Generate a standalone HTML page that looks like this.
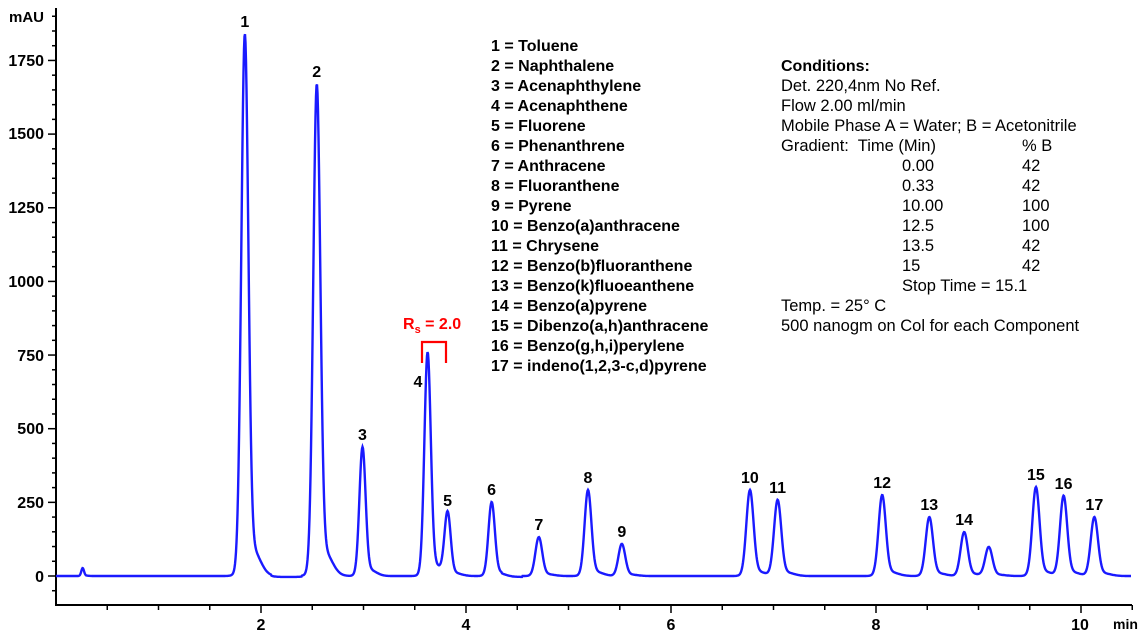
<!DOCTYPE html>
<html><head><meta charset="utf-8"><style>
body{margin:0;background:#fff;}
svg{display:block;font-family:"Liberation Sans",Arial,sans-serif;}
.b{font-weight:bold;font-size:16px;fill:#000}
.n{font-size:16.5px;fill:#000}
</style></head><body>
<svg id="s" width="1146" height="637" xmlns="http://www.w3.org/2000/svg">
<g stroke="#000" stroke-width="2" fill="none">
<line x1="56" y1="8" x2="56" y2="605"/>
<line x1="55" y1="605" x2="1132" y2="605"/>
</g>
<g id="ticks" stroke="#000" stroke-width="1.5"></g>
<g class="b" text-anchor="end">
<text x="44" y="66">1750</text><text x="44" y="139">1500</text><text x="44" y="213">1250</text>
<text x="44" y="287">1000</text><text x="44" y="361">750</text><text x="44" y="434">500</text>
<text x="44" y="508">250</text><text x="44" y="582">0</text>
<text x="44" y="22" style="font-size:15px">mAU</text>
</g>
<g class="b" text-anchor="middle">
<text x="261" y="630">2</text><text x="466" y="630">4</text><text x="671" y="630">6</text>
<text x="876" y="630">8</text><text x="1080" y="630">10</text>
</g>
<text class="b" x="1113" y="629" style="font-size:14px">min</text>
<path id="tr" fill="none" stroke="#1a1aff" stroke-width="2.4"/>
<g id="lb" class="b" text-anchor="middle"></g>
<text x="403" y="329" style="font-weight:bold;font-size:16px;fill:#ff0000">R<tspan font-size="11" dy="4">s</tspan><tspan dy="-4"> = 2.0</tspan></text>
<path d="M422,363 V342 H446 V363" fill="none" stroke="#ff0000" stroke-width="2.2"/>
<g class="b">
<text x="491" y="51">1 = Toluene</text><text x="491" y="71">2 = Naphthalene</text>
<text x="491" y="91">3 = Acenaphthylene</text><text x="491" y="111">4 = Acenaphthene</text>
<text x="491" y="131">5 = Fluorene</text><text x="491" y="151">6 = Phenanthrene</text>
<text x="491" y="171">7 = Anthracene</text><text x="491" y="191">8 = Fluoranthene</text>
<text x="491" y="211">9 = Pyrene</text><text x="491" y="231">10 = Benzo(a)anthracene</text>
<text x="491" y="251">11 = Chrysene</text><text x="491" y="271">12 = Benzo(b)fluoranthene</text>
<text x="491" y="291">13 = Benzo(k)fluoeanthene</text><text x="491" y="311">14 = Benzo(a)pyrene</text>
<text x="491" y="331">15 = Dibenzo(a,h)anthracene</text><text x="491" y="351">16 = Benzo(g,h,i)perylene</text>
<text x="491" y="371">17 = indeno(1,2,3-c,d)pyrene</text>
<text x="781" y="71">Conditions:</text>
</g>
<g class="n">
<text x="781" y="91">Det. 220,4nm No Ref.</text>
<text x="781" y="111">Flow 2.00 ml/min</text>
<text x="781" y="131">Mobile Phase A = Water; B = Acetonitrile</text>
<text x="781" y="151">Gradient:&#160; Time (Min)</text><text x="1022" y="151">% B</text>
<text x="902" y="171">0.00</text><text x="1022" y="171">42</text>
<text x="902" y="191">0.33</text><text x="1022" y="191">42</text>
<text x="902" y="211">10.00</text><text x="1022" y="211">100</text>
<text x="902" y="231">12.5</text><text x="1022" y="231">100</text>
<text x="902" y="251">13.5</text><text x="1022" y="251">42</text>
<text x="902" y="271">15</text><text x="1022" y="271">42</text>
<text x="902" y="291">Stop Time = 15.1</text>
<text x="781" y="311">Temp. = 25° C</text>
<text x="781" y="331">500 nanogm on Col for each Component</text>
</g>
</svg>
<script>
var X=function(t){return 56+t*102.5}, Y=function(v){return 576-v*0.2946};
var tk=document.getElementById('ticks'),h='';
for(var v=-50;v<=1900;v+=50){var y=Y(v);if(y<8)break;var L=(v%250==0)?8:4;h+='<line x1="'+(56-L)+'" y1="'+y+'" x2="56" y2="'+y+'"/>';}
for(var t=0.5;t<=10.6;t+=0.5){var x=X(t);var L=(Math.abs(t%2)<0.01)?8:5;h+='<line x1="'+x+'" y1="605" x2="'+x+'" y2="'+(605+L)+'"/>';}
tk.innerHTML=h;
var P=[[0.26,27,0.013,''],[1.842,1840,0.034,'1'],[2.544,1670,0.034,'2'],[2.99,438,0.03,'3'],[3.625,760,0.031,'4'],[3.82,214,0.03,'5'],[4.25,251,0.031,'6'],[4.71,132,0.033,'7'],[5.19,292,0.033,'8'],[5.52,109,0.033,'9'],[6.77,292,0.035,'10'],[7.04,258,0.035,'11'],[8.06,275,0.035,'12'],[8.52,200,0.035,'13'],[8.86,149,0.035,'14'],[9.10,98,0.035,''],[9.56,302,0.035,'15'],[9.83,272,0.035,'16'],[10.13,200,0.035,'17']];
var d='';
for(var px=56;px<=1131;px+=0.5){var t=(px-56)/102.5,v=0;for(var i=0;i<P.length;i++){var A=P[i][1]/1.03;var z=(t-P[i][0])/P[i][2];v+=A*Math.exp(-0.5*z*z);var z2=(t-P[i][0]-2.2*P[i][2])/(2.2*P[i][2]);v+=A*0.05*Math.exp(-0.5*z2*z2);}
if((t>2.1&&t<2.4)||(t>4.35&&t<4.55))v-=3;d+=(d?'L':'M')+px.toFixed(1)+','+Y(v).toFixed(1);}
document.getElementById('tr').setAttribute('d',d);
var lb='';for(var i=0;i<P.length;i++){if(!P[i][3])continue;lb+='<text x="'+X(P[i][0])+'" y="'+(Y(P[i][1])-7)+'">'+P[i][3]+'</text>';}
document.getElementById('lb').innerHTML=lb;
var ts=document.getElementById('lb').getElementsByTagName('text');for(var i=0;i<ts.length;i++){if(ts[i].textContent=='4'){ts[i].setAttribute('x',418);ts[i].setAttribute('y',387);}}
</script>
</body></html>
